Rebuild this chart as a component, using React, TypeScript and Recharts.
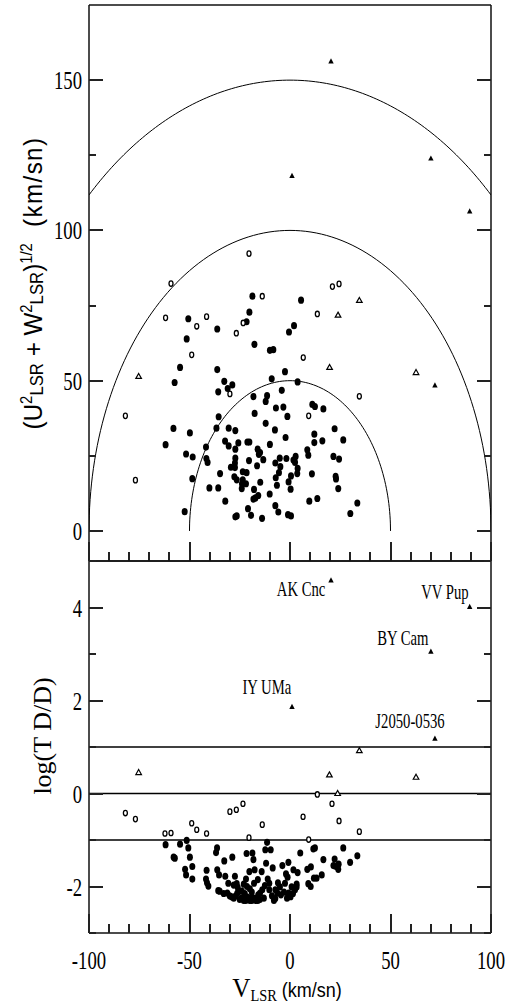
import React from 'react';
import { ScatterChart, Scatter, XAxis, YAxis, ReferenceLine } from 'recharts';

const SERIF = '"Liberation Serif", "Times New Roman", serif';
const SANS = '"Liberation Sans", Arial, sans-serif';
const INK = '#111';

// axis ticks
const vTicks = [-100, -90, -80, -70, -60, -50, -40, -30, -20, -10, 0, 10, 20, 30, 40, 50, 60, 70, 80, 90, 100];
const vLabels = [-100, -50, 0, 50, 100];
const uwTicks = [0, 25, 50, 75, 100, 125, 150];
const uwLabels = [0, 50, 100, 150];
const tdTicks = [-3, -2, -1, 0, 1, 2, 3, 4, 5];
const tdLabels = [-2, 0, 2, 4];

// panel ranges
const vDomain: [number, number] = [-100, 100];
const uwDomain: [number, number] = [-10, 175];
const tdDomain: [number, number] = [-3, 5];

// reference curves / limits
const circleRadii = [50, 100, 150];
const tdLimits = [-1, 0, 1];

// top panel: [V_LSR, (U^2+W^2)^1/2]
const topFilled: [number, number][] = [
  [-18.7, 78.1], [5.5, 76.8], [-50.6, 70.6], [-20.2, 72.8], [-21.6, 69.6], [-36.2, 67.2], [2.0, 68.3], [-0.5, 66.2],
  [-51.4, 63.9], [-17.7, 62.1], [-10.0, 60.1], [-8.3, 60.3], [-54.7, 54.4], [-36.2, 53.7], [-2.5, 53.0], [-57.4, 49.4],
  [-9.1, 50.6], [-32.7, 49.8], [-28.7, 48.6], [-31.0, 47.4], [-35.7, 46.3], [3.8, 49.6], [-4.1, 46.8], [-18.2, 44.7],
  [-11.4, 45.0], [-12.1, 43.1], [-7.0, 40.9], [-3.3, 41.2], [11.1, 42.1], [12.4, 41.4], [16.6, 40.6], [-17.6, 39.1],
  [-1.3, 38.1], [-35.5, 38.0], [-58.0, 34.1], [-30.5, 34.2], [-36.6, 34.2], [-27.2, 33.4], [-12.1, 35.8], [-7.5, 33.6],
  [22.2, 34.0], [-49.8, 32.6], [12.1, 32.2], [-2.2, 31.1], [26.5, 30.3], [-61.9, 28.7], [-32.3, 29.9], [-30.5, 28.3],
  [-25.7, 29.3], [-21.2, 29.6], [-20.2, 29.6], [-10.0, 28.8], [12.1, 29.4], [16.1, 30.0], [-41.8, 27.9], [-27.2, 27.2],
  [-16.1, 27.2], [-14.9, 26.1], [-15.5, 25.5], [8.6, 27.0], [9.1, 25.2], [-51.7, 25.6], [-48.4, 24.6], [-41.6, 24.1],
  [-41.0, 22.8], [-27.2, 24.2], [-27.4, 22.6], [-20.4, 23.4], [-13.3, 23.7], [-7.3, 22.6], [-5.1, 24.2], [-1.8, 24.1],
  [1.7, 23.6], [2.8, 24.8], [2.5, 22.8], [21.6, 24.8], [24.4, 23.9], [-16.4, 21.7], [-4.8, 21.4], [-29.4, 21.2],
  [-27.4, 21.1], [3.8, 20.8], [-34.8, 19.1], [-23.5, 19.7], [-21.6, 19.4], [-5.5, 19.4], [3.6, 19.1], [10.9, 19.0],
  [22.7, 18.2], [22.9, 17.3], [-48.6, 17.4], [-27.7, 18.0], [-26.5, 17.0], [-23.5, 17.0], [-7.1, 17.7], [0.5, 18.3],
  [-23.9, 15.7], [-21.9, 15.7], [-14.8, 16.2], [-6.5, 15.2], [-0.7, 16.3], [-40.1, 14.3], [-35.7, 14.3], [-24.0, 14.1],
  [-17.9, 13.8], [0.3, 13.9], [24.0, 14.1], [-15.8, 11.8], [-10.1, 12.3], [-17.2, 11.0], [-18.2, 10.6], [-32.2, 9.9],
  [9.6, 9.9], [13.6, 10.8], [33.5, 9.3], [-7.3, 8.4], [-20.9, 7.4], [-5.8, 6.3], [-52.4, 6.4], [30.0, 5.8],
  [-27.2, 4.7], [-26.5, 5.0], [-19.4, 5.2], [-13.9, 4.2], [-1.0, 5.4], [0.5, 5.0],
];
const topOpen: [number, number][] = [
  [-20.4, 92.3], [-59.2, 82.3], [-61.9, 70.9], [-46.4, 68.1], [-41.5, 71.3], [-48.9, 58.6], [-26.7, 65.8], [-23.3, 69.2],
  [-13.8, 78.1], [-29.9, 45.6], [-81.9, 38.3], [-76.9, 16.9], [6.6, 57.7], [13.6, 72.2], [21.1, 81.3], [24.4, 82.2],
  [9.3, 38.3], [34.5, 44.8],
];
const topTriFilled: [number, number][] = [[20.4, 156.2], [1.0, 118.1], [70.1, 123.9], [89.4, 106.3], [72.1, 48.4]];
const topTriOpen: [number, number][] = [[-75.3, 51.4], [34.5, 76.7], [23.9, 71.8], [19.7, 54.4], [62.7, 52.7]];

// bottom panel: [V_LSR, log(TD/D)]
const botFilled: [number, number][] = [
  [-61.9, -1.10], [-57.9, -1.37], [-57.3, -1.39], [-54.7, -1.09], [-51.4, -1.01], [-50.6, -1.17], [-49.8, -1.37], [-48.6, -1.57],
  [-52.2, -1.63], [-51.7, -1.75], [-48.6, -1.84], [-41.5, -1.65], [-41.8, -1.84], [-40.6, -1.99], [-41.3, -1.92],
  [-36.3, -1.17], [-36.8, -1.27], [-36.2, -1.64], [-35.3, -1.75], [-35.7, -2.09], [-35.0, -2.10], [-32.7, -1.45],
  [-32.2, -1.78], [-30.7, -1.93], [-31.2, -2.14], [-28.7, -1.37], [-27.4, -1.78], [-29.0, -2.22], [-26.5, -1.94],
  [-26.2, -2.14], [-26.0, -2.02], [-24.2, -2.25], [-21.9, -1.84], [-21.6, -1.29], [-21.4, -2.00], [-21.1, -2.23],
  [-20.2, -1.68], [-18.7, -1.28], [-18.2, -1.42], [-17.9, -1.93], [-18.2, -2.25], [-17.6, -1.64], [-16.6, -2.25],
  [-15.8, -2.18], [-14.9, -2.14], [-14.1, -1.68], [-13.8, -2.07], [-11.9, -1.50], [-12.3, -1.21], [-11.4, -1.05],
  [-11.1, -1.84], [-10.3, -1.93], [-9.6, -1.21], [-10.3, -2.07], [-8.6, -1.60], [-7.3, -2.07], [-7.3, -2.26],
  [-6.3, -2.14], [-5.0, -2.01], [-3.8, -1.55], [-2.5, -1.93], [-2.0, -1.73], [-1.2, -1.80], [-0.8, -1.48],
  [-0.7, -2.14], [0.3, -2.22], [0.8, -2.01], [1.7, -1.64], [2.5, -2.07], [3.3, -2.01], [3.8, -1.70], [3.3, -1.95],
  [5.1, -1.28], [8.6, -1.63], [9.1, -1.94], [10.3, -2.00], [10.4, -1.58], [11.6, -1.19], [12.4, -1.17], [11.9, -1.82],
  [13.2, -1.82], [15.8, -1.75], [16.6, -1.42], [22.2, -1.41], [21.6, -1.55], [22.9, -1.57], [24.0, -1.63], [24.2, -1.52],
  [26.5, -1.17], [29.9, -1.48], [33.5, -1.34], [-30.0, -2.20], [-28.0, -2.25], [-27.0, -2.20], [-25.0, -2.28],
  [-23.0, -2.30], [-22.0, -2.30], [-20.0, -2.30], [-19.5, -2.25], [-19.0, -2.30], [-17.0, -2.30], [-16.0, -2.30],
  [-15.0, -2.28], [-13.0, -2.25], [-24.0, -2.10], [-22.5, -2.15], [-20.0, -2.05], [-19.0, -2.12], [-9.0, -2.20],
  [-8.0, -2.30], [-4.5, -2.18], [-3.0, -2.12], [-1.5, -2.25], [1.5, -2.15], [-33.0, -2.15], [-12.5, -1.98],
  [-6.0, -1.92], [-23.0, -1.95], [-28.0, -1.97], [-16.0, -1.85],
];
const botOpen: [number, number][] = [
  [-81.9, -0.42], [-76.9, -0.55], [-62.2, -0.86], [-59.2, -0.85], [-48.9, -0.64], [-46.4, -0.78], [-41.5, -0.86],
  [-29.9, -0.39], [-26.7, -0.35], [-23.4, -0.22], [-20.4, -0.95], [-13.8, -0.67], [6.5, -0.50], [9.3, -0.99],
  [13.6, -0.02], [20.9, -0.22], [24.4, -0.59], [34.5, -0.82],
];
const botTriFilled: [number, number][] = [[20.4, 4.58], [89.4, 4.01], [70.1, 3.05], [1.0, 1.86], [72.1, 1.18]];
const botTriOpen: [number, number][] = [[-75.3, 0.45], [19.6, 0.40], [34.5, 0.92], [62.7, 0.35], [23.7, 0.0]];

// star names, anchored (centre, baseline) in data units
const starNames = ['AK Cnc', 'VV Pup', 'BY Cam', 'IY UMa', 'J2050-0536'];
const nameV = [5.5, 77.1, 56.1, -11.5, 59.7];
const nameTD = [4.25, 4.19, 3.19, 2.14, 1.40];

const pts = (a: [number, number][]) => a.map(([x, y]) => ({ x, y }));

// half circles V^2 + (U^2+W^2) = R^2, kept inside |V| <= 100
const halfCircle = (r: number) => {
  const out: { x: number; y: number }[] = [];
  const a0 = r > 100 ? Math.acos(100 / r) : 0;
  const n = 120;
  for (let i = 0; i <= n; i++) {
    const a = a0 + ((Math.PI - 2 * a0) * i) / n;
    out.push({ x: r * Math.cos(a), y: r * Math.sin(a) });
  }
  return out;
};

const FilledDot = (p: any) => <ellipse cx={p.cx} cy={p.cy} rx={3} ry={3.6} fill="#000" />;
const OpenDot = (p: any) => (
  <ellipse cx={p.cx} cy={p.cy} rx={2} ry={2.7} fill="#fff" stroke="#000" strokeWidth={1.3} />
);
const FilledTri = (p: any) => (
  <path d={`M${p.cx},${p.cy - 3.2}L${p.cx + 2.7},${p.cy + 2}L${p.cx - 2.7},${p.cy + 2}Z`} fill="#000" />
);
const OpenTri = (p: any) => (
  <path
    d={`M${p.cx},${p.cy - 3}L${p.cx + 2.8},${p.cy + 2}L${p.cx - 2.8},${p.cy + 2}Z`}
    fill="#fff"
    stroke="#000"
    strokeWidth={1.2}
  />
);
const NoDot = () => <g />;

const StarName = (p: any) => (
  <text
    transform={`translate(${p.cx},${p.cy}) scale(0.7,1)`}
    textAnchor="middle"
    fontFamily={SERIF}
    fontSize={21}
    fill="#000"
  >
    {p.payload?.name ?? p.name}
  </text>
);

// inward tick marks as pixel-aligned filled bars (dir: 1 = down/right, -1 = up/left)
const TW = 2;
const xLen = (v: number) => (v % 50 === 0 ? 19 : 9);
const num = (v: any) => Number(v);

const XTick = ({ x, y, payload, dir, withLabels }: any) => {
  const px = num(x);
  const py = Math.round(num(y));
  const len = xLen(num(payload.value));
  return (
    <g>
      <rect x={Math.round(px) - 1} y={dir > 0 ? py : py - len} width={TW} height={len} fill="#222" />
      {withLabels && vLabels.includes(payload.value) && (
        <text
          transform={`translate(${px},${py + 36}) scale(0.72,1)`}
          textAnchor="middle"
          fontFamily={SERIF}
          fontSize={26}
          fill="#000"
        >
          {payload.value}
        </text>
      )}
    </g>
  );
};

const YTick = ({ x, y, payload, dir, major, labels }: any) => {
  const px = Math.round(num(x));
  const py = num(y);
  const len = major(num(payload.value)) ? 14 : 7;
  return (
    <g>
      <rect x={dir > 0 ? px : px - len} y={Math.round(py) - 1} width={len} height={TW} fill="#222" />
      {labels && labels.includes(payload.value) && (
        <text
          transform={`translate(${px - 7},${py + 9}) scale(0.72,1)`}
          textAnchor="end"
          fontFamily={SERIF}
          fontSize={26}
          fill="#000"
        >
          {payload.value}
        </text>
      )}
    </g>
  );
};

const frame = { stroke: INK, strokeWidth: 1.5 };
const uwMajor = (v: number) => v % 50 === 0;
const tdMajor = (v: number) => v % 2 === 0;

const TopYLabel = ({ viewBox }: any) => {
  const vb = viewBox || { x: 0, y: 5, width: 89, height: 556 };
  const cx = vb.x + 42;
  const cy = vb.y + vb.height / 2;
  return (
    <text
      transform={`translate(${cx},${cy}) rotate(-90) scale(0.93,1)`}
      textAnchor="middle"
      fontFamily={SANS}
      fontSize={26}
      fill="#000"
      style={{ whiteSpace: 'pre' }}
    >
      (U
      <tspan dy={-10} fontSize={16}>2</tspan>
      <tspan dy={11} fontSize={18}>LSR</tspan>
      <tspan dy={-1}>{' + W'}</tspan>
      <tspan dy={-10} fontSize={16}>2</tspan>
      <tspan dy={11} fontSize={18}>LSR</tspan>
      <tspan dy={-1}>)</tspan>
      <tspan dy={-10} fontSize={16}>1/2</tspan>
      <tspan dy={10} letterSpacing={1.5}>{'  (km/sn)'}</tspan>
    </text>
  );
};

const BottomYLabel = ({ viewBox }: any) => {
  const vb = viewBox || { x: 0, y: 1, width: 89, height: 372 };
  const cx = vb.x + 51;
  const cy = vb.y + vb.height / 2 - 11;
  return (
    <text
      transform={`translate(${cx},${cy}) rotate(-90)`}
      textAnchor="middle"
      fontFamily={SERIF}
      fontSize={26}
      fill="#000"
      style={{ whiteSpace: 'pre' }}
    >
      log(T D/D)
    </text>
  );
};

const XLabel = ({ viewBox }: any) => {
  const vb = viewBox || { x: 89, y: 373, width: 402, height: 74 };
  const cx = vb.x + vb.width / 2 - 3;
  const cy = vb.y + 64;
  return (
    <text
      transform={`translate(${cx},${cy}) scale(0.9,1)`}
      textAnchor="middle"
      fill="#000"
      style={{ whiteSpace: 'pre' }}
    >
      <tspan fontFamily={SERIF} fontSize={28}>V</tspan>
      <tspan fontFamily={SERIF} fontSize={16} dy={4}>LSR</tspan>
      <tspan fontFamily={SANS} fontSize={20} dy={-4}>{' (km/sn)'}</tspan>
    </text>
  );
};

const axisCommon = {
  type: 'number' as const,
  allowDataOverflow: true,
  interval: 0 as const,
  tickSize: 0,
  tickMargin: 0,
  tickLine: false,
  axisLine: frame,
};

export default function App() {
  const topCurves = circleRadii.map(halfCircle);
  const names = starNames.map((name, i) => ({ x: nameV[i], y: nameTD[i], name }));

  return (
    <div style={{ position: 'absolute', left: 0, top: 0, width: 509, height: 1007, background: '#fff' }}>
      {/* Upper panel: total space velocity */}
      <div style={{ position: 'absolute', left: 0, top: 0 }}>
        <ScatterChart width={509} height={562} margin={{ top: 4, right: 0, bottom: 0, left: 0 }}>
          <XAxis
            {...axisCommon}
            xAxisId="t"
            orientation="top"
            domain={vDomain}
            ticks={vTicks}
            height={1}
            tick={(p: any) => <XTick {...p} dir={1} />}
          />
          <XAxis
            {...axisCommon}
            xAxisId="b"
            dataKey="x"
            domain={vDomain}
            ticks={vTicks}
            height={1}
            tick={(p: any) => <XTick {...p} dir={-1} />}
          />
          <YAxis
            {...axisCommon}
            yAxisId="l"
            dataKey="y"
            domain={uwDomain}
            ticks={uwTicks}
            width={89}
            tick={(p: any) => <YTick {...p} dir={1} major={uwMajor} labels={uwLabels} />}
            label={{ content: (p: any) => <TopYLabel {...p} /> }}
          />
          <YAxis
            {...axisCommon}
            yAxisId="r"
            orientation="right"
            domain={uwDomain}
            ticks={uwTicks}
            width={18}
            tick={(p: any) => <YTick {...p} dir={-1} major={uwMajor} />}
          />
          {topCurves.map((c, i) => (
            <Scatter
              key={`c${i}`}
              xAxisId="b"
              yAxisId="l"
              data={c}
              line={{ stroke: '#000', strokeWidth: 1 }}
              lineType="joint"
              shape={NoDot}
              isAnimationActive={false}
            />
          ))}
          <Scatter xAxisId="b" yAxisId="l" data={pts(topFilled)} shape={FilledDot} isAnimationActive={false} />
          <Scatter xAxisId="b" yAxisId="l" data={pts(topOpen)} shape={OpenDot} isAnimationActive={false} />
          <Scatter xAxisId="b" yAxisId="l" data={pts(topTriOpen)} shape={OpenTri} isAnimationActive={false} />
          <Scatter xAxisId="b" yAxisId="l" data={pts(topTriFilled)} shape={FilledTri} isAnimationActive={false} />
        </ScatterChart>
      </div>

      {/* Lower panel: log(TD/D) */}
      <div style={{ position: 'absolute', left: 0, top: 560 }}>
        <ScatterChart width={509} height={447} margin={{ top: 0, right: 0, bottom: 0, left: 0 }}>
          <XAxis
            {...axisCommon}
            xAxisId="t"
            orientation="top"
            domain={vDomain}
            ticks={vTicks}
            height={1}
            tick={(p: any) => <XTick {...p} dir={1} />}
          />
          <XAxis
            {...axisCommon}
            xAxisId="b"
            dataKey="x"
            domain={vDomain}
            ticks={vTicks}
            height={74}
            tick={(p: any) => <XTick {...p} dir={-1} withLabels />}
            label={{ content: (p: any) => <XLabel {...p} /> }}
          />
          <YAxis
            {...axisCommon}
            yAxisId="l"
            dataKey="y"
            domain={tdDomain}
            ticks={tdTicks}
            width={89}
            tick={(p: any) => <YTick {...p} dir={1} major={tdMajor} labels={tdLabels} />}
            label={{ content: (p: any) => <BottomYLabel {...p} /> }}
          />
          <YAxis
            {...axisCommon}
            yAxisId="r"
            orientation="right"
            domain={tdDomain}
            ticks={tdTicks}
            width={18}
            tick={(p: any) => <YTick {...p} dir={-1} major={tdMajor} />}
          />
          {tdLimits.map((v) => (
            <ReferenceLine key={v} xAxisId="b" yAxisId="l" y={v} stroke="#000" strokeWidth={1.3} />
          ))}
          <Scatter xAxisId="b" yAxisId="l" data={pts(botFilled)} shape={FilledDot} isAnimationActive={false} />
          <Scatter xAxisId="b" yAxisId="l" data={pts(botOpen)} shape={OpenDot} isAnimationActive={false} />
          <Scatter xAxisId="b" yAxisId="l" data={pts(botTriOpen)} shape={OpenTri} isAnimationActive={false} />
          <Scatter xAxisId="b" yAxisId="l" data={pts(botTriFilled)} shape={FilledTri} isAnimationActive={false} />
          <Scatter xAxisId="b" yAxisId="l" data={names} shape={StarName} isAnimationActive={false} />
        </ScatterChart>
      </div>
    </div>
  );
}
